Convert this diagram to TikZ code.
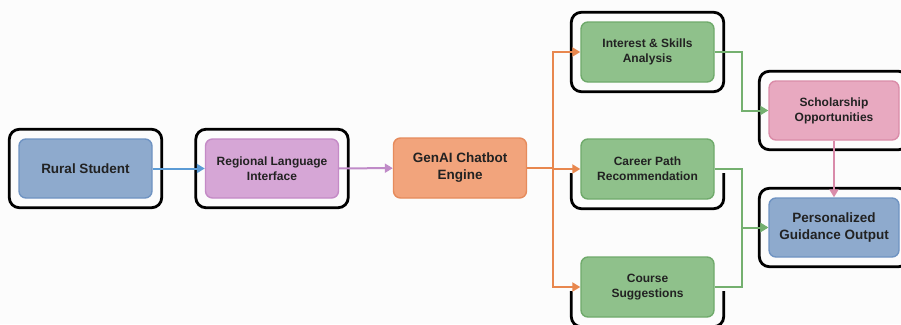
\documentclass[tikz,border=0pt]{standalone}
\usepackage{fontspec}
\setmainfont{Liberation Sans}
\usepackage{tikz}
\usetikzlibrary{arrows.meta,calc}

\definecolor{bluefill}{HTML}{8EAACD}
\definecolor{bluedraw}{HTML}{6F93C2}
\definecolor{purplefill}{HTML}{D6A6D6}
\definecolor{purpledraw}{HTML}{C48AC6}
\definecolor{orangefill}{HTML}{F2A47C}
\definecolor{orangedraw}{HTML}{E68B5C}
\definecolor{greenfill}{HTML}{8FC18B}
\definecolor{greendraw}{HTML}{6FAA6B}
\definecolor{pinkfill}{HTML}{E8A9C0}
\definecolor{pinkdraw}{HTML}{DA8CA8}
\definecolor{bluearrow}{HTML}{5B9BD5}
\definecolor{purplearrow}{HTML}{C08BC8}
\definecolor{orangearrow}{HTML}{E8874E}
\definecolor{greenarrow}{HTML}{74B06F}
\definecolor{pinkarrow}{HTML}{D98BAA}
\definecolor{inktext}{HTML}{222222}

\begin{document}
\begin{tikzpicture}[x=1pt,y=-1pt,
    box/.style={rounded corners=7pt,line width=1.4pt,minimum width=133pt,minimum height=59pt,
      align=center,text=inktext,font=\bfseries\fontsize{12}{15}\selectfont},
    bigtext/.style={font=\bfseries\fontsize{13.5}{17}\selectfont},
    frame/.style={draw=black,line width=2.8pt,rounded corners=10pt},
    link/.style={line width=2pt,-{Triangle[length=8pt,width=9pt]}}]
      \def\pad{9}
      \fill[white!99!black] (0,0) rectangle (901,324);
      \useasboundingbox (0,0) rectangle (901,324);
      \node[box,bigtext,fill=bluefill,draw=bluedraw] (rural) at (85.5,168.5) {Rural Student};
      \node[box,fill=purplefill,draw=purpledraw] (regional) at (272,168.5) {Regional Language\\Interface};
      \node[box,bigtext,fill=orangefill,draw=orangedraw,minimum height=60pt] (genai) at (460,168) {GenAI Chatbot\\Engine};
      \foreach \n/\y/\lab in {interest/52/{Interest \& Skills\\Analysis},career/169/{Career Path\\Recommendation},course/287/{Course\\Suggestions}}{
        \node[box,fill=greenfill,draw=greendraw,minimum height=60pt] (\n) at (647.5,\y) {\lab};
      }
      \node[box,fill=pinkfill,draw=pinkdraw,minimum width=130pt] (scholar) at (834,110.5) {Scholarship\\Opportunities};
      \node[box,bigtext,fill=bluefill,draw=bluedraw,minimum width=130pt] (personal) at (834,227.5) {Personalized\\Guidance Output};
      \foreach \n in {rural,regional,interest,scholar,personal}{
        \draw[frame] ($(\n.south west)+(-\pad,\pad)$) rectangle ($(\n.north east)+(\pad,-\pad)$);
      }
      \foreach \n in {career,course}{
        \draw[frame] ($(\n.east)+(\pad,4)$) |- ($(\n.south)+(0,\pad)$) -| ($(\n.west)+(-\pad,4)$);
      }
      \draw[link,bluearrow] (rural) -- (regional);
      \draw[link,purplearrow] (regional) -- (genai);
      \coordinate (fork) at ($(genai.east)+(26,0)$);
      \draw[line width=2pt,orangearrow] (genai.east) -- (fork);
      \foreach \n in {interest,career,course}{
        \draw[link,orangearrow] (fork) |- (\n.west);
      }
      \draw[link,greenarrow] (interest.east) -| ($(interest.east)!.5!(scholar.west)$) |- (scholar.west);
      \foreach \n in {career,course}{
        \draw[link,greenarrow] (\n.east) -| ($(\n.east)!.5!(personal.west)$) |- (personal.west);
      }
      \draw[link,pinkarrow] (scholar) -- (personal);
    \end{tikzpicture}
\end{document}
